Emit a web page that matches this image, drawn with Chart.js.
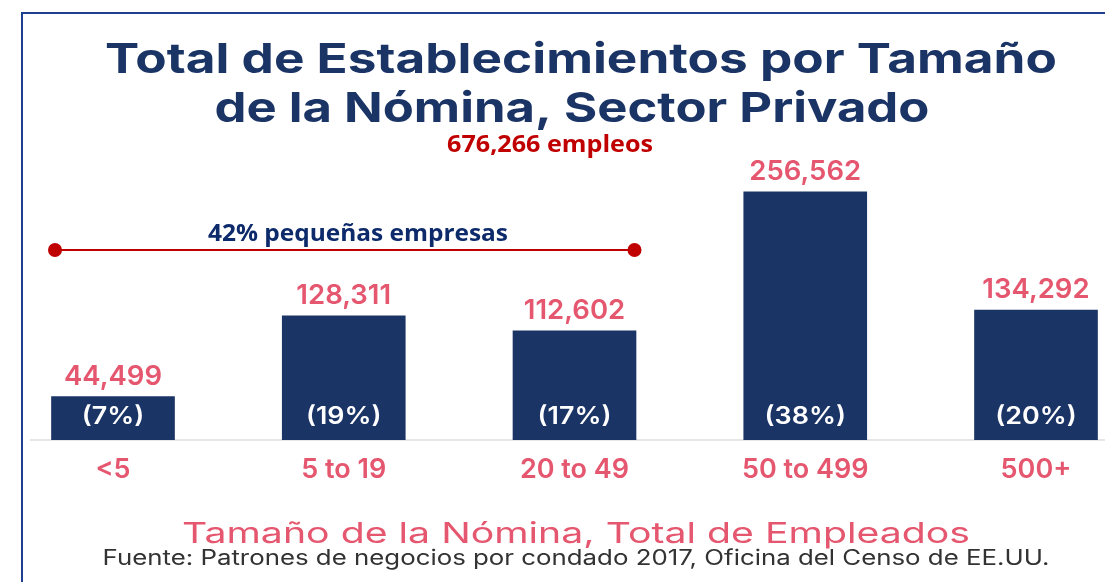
<!DOCTYPE html>
<html>
<head>
<meta charset="utf-8">
<script src="https://cdn.jsdelivr.net/npm/chart.js@4.4.1/dist/chart.umd.min.js"></script>
<style>
  html, body { margin: 0; padding: 0; background: #fff; }
  #wrap { position: relative; width: 1105px; height: 582px; }
  #frame { position: absolute; left: 21px; top: 12px; right: -4px; bottom: -4px;
           border-left: 2px solid #1f3f8f; border-top: 2px solid #1f3f8f; }
</style>
</head>
<body>
<div id="wrap">
  <div id="frame"></div>
  <canvas id="chart" width="1105" height="582"></canvas>
</div>
<script>
// ── Datos ──────────────────────────────────────────────────────────────
const categorias  = ['<5', '5 to 19', '20 to 49', '50 to 499', '500+'];
const establec    = [44499, 128311, 112602, 256562, 134292];
const porcentajes = ['(7%)', '(19%)', '(17%)', '(38%)', '(20%)'];
const titulo      = ['Total de Establecimientos por Tamaño', 'de la Nómina, Sector Privado'];
const empleos     = '676,266 empleos';
const pequenas    = '42% pequeñas empresas';
const ejeTitulo   = 'Tamaño de la Nómina, Total de Empleados';
const fuente      = 'Fuente: Patrones de negocios por condado 2017, Oficina del Censo de EE.UU.';

const NAVY = '#1b3466';
const PINK = '#e5566f';
const FONT = 'Inter, "Open Sans", sans-serif';

// texto centrado, estirado en horizontal hasta un ancho dado (o por un factor)
function texto(ctx, str, cx, y, font, color, ancho, factor) {
    ctx.save();
    ctx.font = font;
    ctx.fillStyle = color;
    ctx.textAlign = 'center';
    ctx.textBaseline = 'alphabetic';
    const w = ctx.measureText(str).width;
    const sx = ancho ? ancho / w : (factor || 1);
    ctx.translate(cx, y);
    ctx.scale(sx, 1);
    ctx.fillText(str, 0, 0);
    ctx.restore();
}

// ── Etiquetas y anotaciones ────────────────────────────────────────────
const etiquetas = {
    id: 'etiquetas',
    beforeDatasetsDraw(chart) {
        const { ctx } = chart;
        const y0 = chart.scales.y.getPixelForValue(0);
        ctx.save();
        ctx.strokeStyle = '#dedede';
        ctx.lineWidth = 1.5;
        ctx.beginPath();
        ctx.moveTo(30, y0 + 0.5);
        ctx.lineTo(chart.width, y0 + 0.5);
        ctx.stroke();
        ctx.restore();
    },
    afterDatasetsDraw(chart) {
        const { ctx } = chart;
        const meta = chart.getDatasetMeta(0);
        const y0 = chart.scales.y.getPixelForValue(0);

        // título
        texto(ctx, titulo[0], 581, 73, '700 41px ' + FONT, NAVY, 952);
        texto(ctx, titulo[1], 572, 122, '700 41px ' + FONT, NAVY, 715);
        texto(ctx, empleos, 550, 152, 'bold 24px "Open Sans", sans-serif', '#c00000', 206);

        // valores y porcentajes
        meta.data.forEach((bar, i) => {
            texto(ctx, establec[i].toLocaleString('en-US'), bar.x, bar.y - 12, '600 27px ' + FONT, PINK, 0, 1.02);
            texto(ctx, porcentajes[i], bar.x, y0 - 16, '600 24px ' + FONT, '#ffffff', 0, 1.12);
        });

        // 42% pequeñas empresas + línea
        const xa = meta.data[0].x - 58;
        const xb = meta.data[2].x + 60;
        const yl = 250;
        texto(ctx, pequenas, 358, 241, 'bold 24px "Open Sans", sans-serif', '#0d2a6b', 300);
        ctx.save();
        ctx.strokeStyle = '#c00000';
        ctx.fillStyle = '#c00000';
        ctx.lineWidth = 2;
        ctx.beginPath();
        ctx.moveTo(xa, yl);
        ctx.lineTo(xb, yl);
        ctx.stroke();
        [xa, xb].forEach(x => {
            ctx.beginPath();
            ctx.arc(x, yl, 7, 0, Math.PI * 2);
            ctx.fill();
        });
        ctx.restore();

        // título del eje y fuente
        texto(ctx, ejeTitulo, 576, 543, '400 29px ' + FONT, PINK, 788);
        texto(ctx, fuente, 576, 565, '400 21px ' + FONT, '#333333', 947);
    }
};

new Chart(document.getElementById('chart'), {
    type: 'bar',
    data: {
        labels: categorias,
        datasets: [{
            data: establec,
            backgroundColor: NAVY,
            barThickness: 123,
            clip: false
        }]
    },
    plugins: [etiquetas],
    options: {
        responsive: false,
        animation: false,
        layout: { padding: { left: 113, right: 69, top: 150, bottom: 90 } },
        plugins: {
            legend: { display: false },
            tooltip: { enabled: false },
            title: { display: false }
        },
        scales: {
            x: {
                offset: false,
                grid: { display: false },
                border: { display: false },
                ticks: { color: PINK, padding: 6, font: { family: FONT, size: 27, weight: '600' } }
            },
            y: {
                display: false,
                min: 0,
                max: 300000
            }
        }
    }
});
</script>
</body>
</html>
